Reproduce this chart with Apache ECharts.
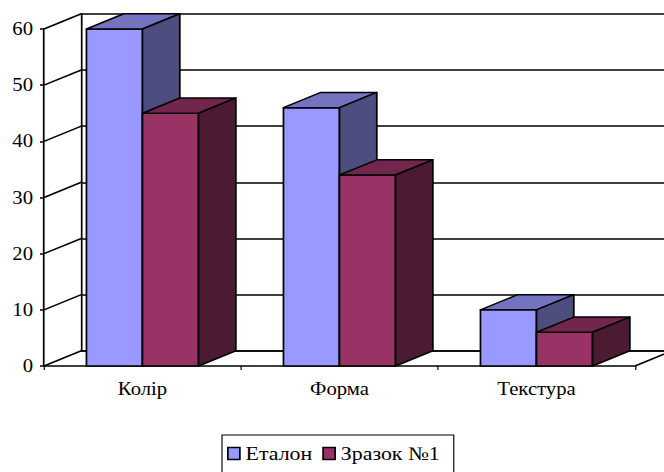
<!DOCTYPE html>
<html>
<head>
<meta charset="utf-8">
<script src="https://cdn.jsdelivr.net/npm/echarts@6/dist/echarts.min.js"></script>
<style>
  html, body { margin: 0; padding: 0; background: #fff; overflow: hidden; }
  /* the chart is laid out narrower and widened, giving the wide serif lettering */
  #chart { width: 577px; height: 472px; transform: scaleX(1.1508); transform-origin: 0 0; }
</style>
</head>
<body>
<div id="chart"></div>
<script>
// Categories and values of the two samples
const categories = ['Колір', 'Форма', 'Текстура'];
const seriesNames = ['Еталон', 'Зразок №1'];
const etalonValues = [60, 46, 10];
const zrazokValues = [45, 34, 6];
const yMin = 0, yMax = 60, yStep = 10;
const yTickValues = [0, 10, 20, 30, 40, 50, 60];

// horizontal widening applied to the container
const S = 664 / 577;

// Depth of the pseudo-3D box (shift of the back plane)
const DX = 37.3 / S, DY = -15.2;
const FONT = 'Liberation Serif';

// Face colours: front, top, side
const shades = [
  { front: '#9999FF', top: '#7373BF', side: '#4D4D80' },
  { front: '#993366', top: '#73264D', side: '#4D1A33' }
];

const plot = { left: 44 / S, top: 29, width: 591 / S, height: 337 };

function barRenderer(seriesIdx) {
  return function (params, api) {
    const cat = api.value(0);
    const val = api.value(1);
    const top = api.coord([cat, val]);
    const base = api.coord([cat, 0]);
    const band = api.size([1, 0])[0];
    const w = band * 0.2845;
    const x0 = seriesIdx === 0 ? top[0] - w : top[0];
    const x1 = x0 + w;
    const yT = top[1], yB = base[1];
    const c = shades[seriesIdx];
    const edge = { stroke: '#000', lineWidth: 1.5, lineJoin: 'round' };
    return {
      type: 'group',
      children: [
        { type: 'polygon', shape: { points: [[x0, yB], [x1, yB], [x1, yT], [x0, yT]] },
          style: Object.assign({ fill: c.front }, edge) },
        { type: 'polygon', shape: { points: [[x0, yT], [x1, yT], [x1 + DX, yT + DY], [x0 + DX, yT + DY]] },
          style: Object.assign({ fill: c.top }, edge) },
        { type: 'polygon', shape: { points: [[x1, yB], [x1 + DX, yB + DY], [x1 + DX, yT + DY], [x1, yT]] },
          style: Object.assign({ fill: c.side }, edge) }
      ]
    };
  };
}

// Side-wall diagonals from every front tick to the back wall, plus the floor's right edge
function frameRenderer(params, api) {
  const v = api.value(0);
  const cs = params.coordSys;
  const y = api.coord([0, v])[1];
  const children = [
    { type: 'line', shape: { x1: cs.x, y1: y, x2: cs.x + DX, y2: y + DY },
      style: { stroke: '#000', lineWidth: 1.5 } }
  ];
  if (v === yMin) {
    children.push({ type: 'line',
      shape: { x1: cs.x + cs.width, y1: y, x2: cs.x + cs.width + DX, y2: y + DY },
      style: { stroke: '#000', lineWidth: 1.5 } });
  }
  return { type: 'group', children: children };
}

const chart = echarts.init(document.getElementById('chart'), null, { renderer: 'svg' });
chart.setOption({
  animation: false,
  backgroundColor: '#fff',
  textStyle: { fontFamily: FONT, color: '#000' },
  grid: [
    { left: plot.left, top: plot.top, width: plot.width, height: plot.height },
    { left: plot.left + DX, top: plot.top + DY, width: plot.width, height: plot.height }
  ],
  xAxis: [
    { type: 'category', gridIndex: 0, data: categories,
      axisLine: { lineStyle: { color: '#000', width: 1.5 } },
      axisTick: { show: true, length: 4, lineStyle: { color: '#000' } },
      axisLabel: { color: '#000', fontFamily: FONT, fontSize: 18, margin: 14 },
      splitLine: { show: false } },
    { type: 'category', gridIndex: 1, data: categories,
      axisLine: { lineStyle: { color: '#000', width: 1.5 } },
      axisTick: { show: false }, axisLabel: { show: false }, splitLine: { show: false } }
  ],
  yAxis: [
    { type: 'value', gridIndex: 0, min: yMin, max: yMax, interval: yStep,
      axisLine: { show: true, lineStyle: { color: '#000', width: 1.5 } },
      axisTick: { show: true, length: 4 / S, lineStyle: { color: '#000', width: 1.5 } },
      axisLabel: { color: '#000', fontFamily: FONT, fontSize: 18, margin: 11 / S },
      splitLine: { show: false } },
    { type: 'value', gridIndex: 1, min: yMin, max: yMax, interval: yStep,
      axisLine: { show: true, lineStyle: { color: '#000', width: 1.5 } },
      axisTick: { show: false }, axisLabel: { show: false },
      splitLine: { show: true, lineStyle: { color: '#000', width: 1.5 } } }
  ],
  legend: {
    data: seriesNames,
    left: 222 / S, top: 435,
    padding: [9, 14 / S, 30, 5 / S],
    itemWidth: 12 / S, itemHeight: 12, itemGap: 10 / S,
    icon: 'rect',
    borderColor: '#000', borderWidth: 1,
    itemStyle: { borderColor: '#000', borderWidth: 1.5 },
    textStyle: { color: '#000', fontFamily: FONT, fontSize: 19 }
  },
  series: [
    { type: 'custom', name: 'frame', xAxisIndex: 0, yAxisIndex: 0, silent: true,
      renderItem: frameRenderer, data: yTickValues.map(v => [v]), z: 1 },
    { type: 'custom', name: seriesNames[0], xAxisIndex: 0, yAxisIndex: 0,
      itemStyle: { color: shades[0].front },
      renderItem: barRenderer(0), encode: { x: 0, y: 1 },
      data: etalonValues.map((v, i) => [i, v]), z: 3 },
    { type: 'custom', name: seriesNames[1], xAxisIndex: 0, yAxisIndex: 0,
      itemStyle: { color: shades[1].front },
      renderItem: barRenderer(1), encode: { x: 0, y: 1 },
      data: zrazokValues.map((v, i) => [i, v]), z: 3 }
  ]
});
</script>
</body>
</html>
